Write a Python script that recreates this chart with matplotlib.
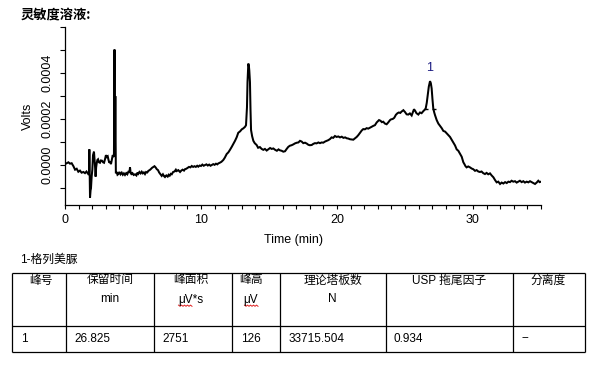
import matplotlib
matplotlib.use('Agg')
import matplotlib.pyplot as plt
from matplotlib.ticker import FixedLocator, FixedFormatter
import numpy as np

# ---------------- data ----------------
title = "灵敏度溶液:"
compound = "1-格列美脲"

time_min = [
    0.00, 0.12, 0.25, 0.37, 0.49, 0.62, 0.74, 0.86, 0.98, 1.10, 1.22, 1.35, 1.47, 1.58, 1.70, 1.77,
    1.79, 1.81, 1.84, 1.88, 1.91, 1.96, 2.01, 2.06, 2.13, 2.18, 2.21, 2.25, 2.29, 2.33, 2.38, 2.43,
    2.50, 2.57, 2.64, 2.72, 2.80, 2.87, 2.94, 3.01, 3.08, 3.14, 3.20, 3.26, 3.32, 3.38, 3.45, 3.51,
    3.58, 3.60, 3.64, 3.67, 3.70, 3.74, 3.80, 3.86, 3.92, 4.00, 4.08, 4.17, 4.25, 4.33, 4.41, 4.50,
    4.58, 4.66, 4.74, 4.78, 4.83, 4.88, 4.96, 5.05, 5.15, 5.25, 5.32, 5.39, 5.47, 5.56, 5.64, 5.72,
    5.80, 5.88, 5.96, 6.05, 6.13, 6.22, 6.30, 6.40, 6.50, 6.58, 6.66, 6.75, 6.84, 6.92, 7.00, 7.11,
    7.20, 7.28, 7.35, 7.45, 7.55, 7.62, 7.70, 7.78, 7.85, 7.95, 8.05, 8.15, 8.21, 8.33, 8.46, 8.55,
    8.65, 8.75, 8.82, 8.92, 9.02, 9.12, 9.22, 9.32, 9.42, 9.52, 9.62, 9.72, 9.80, 9.90, 10.00, 10.10,
    10.20, 10.29, 10.40, 10.50, 10.60, 10.70, 10.79, 10.90, 11.00, 11.10, 11.20, 11.27, 11.38, 11.50,
    11.64, 11.75, 11.89, 12.01, 12.13, 12.26, 12.38, 12.50, 12.62, 12.74, 12.87, 13.00, 13.11, 13.24,
    13.31, 13.38, 13.42, 13.46, 13.48, 13.52, 13.55, 13.60, 13.64, 13.68, 13.76, 13.85, 13.95, 14.09,
    14.20, 14.33, 14.46, 14.58, 14.70, 14.83, 14.95, 15.08, 15.20, 15.32, 15.45, 15.58, 15.70, 15.80,
    15.93, 16.05, 16.18, 16.30, 16.42, 16.54, 16.66, 16.80, 16.91, 17.05, 17.16, 17.28, 17.40, 17.52,
    17.65, 17.78, 17.89, 18.00, 18.14, 18.26, 18.38, 18.50, 18.63, 18.75, 18.87, 18.99, 19.12, 19.24,
    19.36, 19.49, 19.60, 19.72, 19.85, 19.97, 20.10, 20.22, 20.35, 20.47, 20.60, 20.72, 20.83, 20.95,
    21.08, 21.20, 21.32, 21.45, 21.57, 21.70, 21.82, 21.93, 22.05, 22.18, 22.30, 22.43, 22.55, 22.67,
    22.79, 22.92, 23.00, 23.09, 23.20, 23.30, 23.40, 23.52, 23.65, 23.77, 23.90, 23.97, 24.10, 24.21,
    24.33, 24.45, 24.55, 24.65, 24.75, 24.88, 25.00, 25.12, 25.24, 25.36, 25.49, 25.58, 25.66, 25.74,
    25.84, 25.98, 26.10, 26.22, 26.35, 26.45, 26.52, 26.60, 26.67, 26.75, 26.84, 26.90, 26.96, 27.02,
    27.08, 27.15, 27.21, 27.33, 27.45, 27.58, 27.70, 27.82, 27.95, 28.06, 28.18, 28.31, 28.43, 28.55,
    28.68, 28.80, 28.92, 29.05, 29.17, 29.29, 29.36, 29.45, 29.53, 29.65, 29.78, 29.90, 30.02, 30.15,
    30.27, 30.39, 30.51, 30.63, 30.75, 30.88, 31.00, 31.12, 31.25, 31.37, 31.50, 31.62, 31.74, 31.86,
    31.99, 32.11, 32.23, 32.36, 32.48, 32.60, 32.72, 32.84, 32.96, 33.09, 33.21, 33.33, 33.45, 33.58,
    33.70, 33.82, 33.95, 34.07, 34.19, 34.31, 34.43, 34.56, 34.68, 34.80, 34.90, 35.00,
]

# signal in units of 1e-4 V
signal_e4 = [
    0.04, 0.08, 0.12, 0.06, 0.08, -0.05, -0.20, -0.16, -0.29, -0.24, -0.33, -0.30, -0.35, -0.28, -0.38, -0.30,
    0.68, -0.20, -1.41, -1.10, -1.01, -0.50, -0.20, 0.43, 0.58, 0.20, -0.07, -0.50, -0.10, 0.07, 0.22, 0.25,
    0.12, 0.10, 0.20, 0.19, 0.12, 0.10, 0.25, 0.43, 0.35, 0.38, 0.22, 0.10, 0.15, 0.04, 0.25, 0.43,
    0.35, 0.51, 5.01, 0.55, 2.99, -0.36, -0.30, -0.42, -0.39, -0.30, -0.40, -0.33, -0.42, -0.36, -0.43, -0.35,
    -0.40, -0.29, -0.30, -0.10, -0.35, -0.39, -0.35, -0.43, -0.40, -0.45, -0.33, -0.38, -0.30, -0.36, -0.29, -0.36,
    -0.32, -0.39, -0.30, -0.32, -0.25, -0.22, -0.18, -0.12, -0.08, -0.05, -0.10, -0.18, -0.22, -0.32, -0.38, -0.47,
    -0.40, -0.48, -0.52, -0.45, -0.50, -0.42, -0.46, -0.38, -0.40, -0.30, -0.28, -0.20, -0.26, -0.22, -0.30, -0.24,
    -0.20, -0.24, -0.18, -0.16, -0.12, -0.08, -0.10, -0.04, -0.08, -0.05, -0.08, -0.03, -0.07, -0.02, -0.04, 0.02,
    -0.03, 0.00, 0.03, -0.02, 0.02, -0.03, 0.00, 0.04, 0.01, 0.06, 0.03, 0.07, 0.10, 0.14,
    0.22, 0.32, 0.48, 0.55, 0.66, 0.79, 0.92, 1.05, 1.20, 1.40, 1.46, 1.55, 1.59, 1.66,
    1.73, 2.50, 3.60, 4.20, 4.40, 4.30, 4.11, 3.60, 2.40, 1.52, 1.25, 1.05, 0.95, 0.87,
    0.75, 0.78, 0.70, 0.66, 0.70, 0.63, 0.68, 0.74, 0.70, 0.72, 0.66, 0.62, 0.68, 0.64,
    0.62, 0.58, 0.60, 0.70, 0.79, 0.84, 0.86, 0.90, 0.94, 0.97, 0.98, 1.05, 1.02, 0.95,
    0.97, 0.93, 0.88, 0.86, 0.87, 0.92, 0.95, 0.94, 0.98, 0.95, 0.98, 0.97, 1.02, 1.05,
    1.08, 1.13, 1.20, 1.18, 1.26, 1.22, 1.24, 1.20, 1.23, 1.18, 1.20, 1.16, 1.15, 1.12,
    1.11, 1.10, 1.16, 1.22, 1.30, 1.40, 1.50, 1.56, 1.55, 1.60, 1.58, 1.62, 1.66, 1.70,
    1.73, 1.85, 1.90, 1.95, 1.92, 1.86, 1.88, 1.80, 1.77, 1.85, 1.95, 1.98, 2.00, 2.05,
    2.18, 2.25, 2.28, 2.26, 2.32, 2.38, 2.30, 2.20, 2.19, 2.24, 2.15, 2.30, 2.42, 2.36,
    2.25, 2.19, 2.28, 2.25, 2.34, 2.40, 2.45, 2.70, 3.03, 3.40, 3.64, 3.55, 3.32, 2.85,
    2.45, 2.28, 2.16, 1.95, 1.80, 1.70, 1.60, 1.48, 1.45, 1.38, 1.30, 1.22, 1.10, 0.98,
    0.85, 0.68, 0.62, 0.48, 0.36, 0.12, 0.05, -0.05, -0.10, -0.06, -0.10, -0.15, -0.18, -0.25,
    -0.22, -0.28, -0.30, -0.28, -0.35, -0.39, -0.34, -0.40, -0.36, -0.45, -0.53, -0.65, -0.75, -0.72,
    -0.82, -0.76, -0.80, -0.74, -0.78, -0.72, -0.74, -0.68, -0.72, -0.70, -0.76, -0.72, -0.68, -0.74,
    -0.70, -0.76, -0.72, -0.75, -0.70, -0.74, -0.78, -0.82, -0.76, -0.68, -0.74, -0.72,
]

# integration markers of peak 1 (start / end)
peak_marker_t = [26.55, 27.10]
peak_marker_e4 = [2.45, 2.42]
peak_rt = 26.825
peak_top_e4 = 3.64
peak_name = "1"

x_major = [0, 10, 20, 30]
x_minor = list(range(0, 36))
y_major = [0.0, 0.0002, 0.0004]
y_major_labels = ["0.0000", "0.0002", "0.0004"]
y_minor = [-0.0001, 0.0001, 0.0003, 0.0005, 0.0006]

header1 = ["峰号", "保留时间", "峰面积", "峰高", "理论塔板数", "USP 拖尾因子", "分离度"]
header2 = ["", "min", "μV*s", "μV", "N", "", ""]
row1 = ["1", "26.825", "2751", "126", "33715.504", "0.934", "--"]

# ---------------- figure ----------------
W, H = 598, 367
fig = plt.figure(figsize=(W / 100, H / 100), dpi=100)
fig.patch.set_facecolor('white')

latin_cjk = ['Liberation Sans', 'Noto Sans CJK SC', 'DejaVu Sans']
cjk_first = ['Noto Sans CJK SC', 'Liberation Sans', 'DejaVu Sans']

# overlay in pixel coords for title and table
ov = fig.add_axes([0, 0, 1, 1])
ov.set_xlim(0, W)
ov.set_ylim(H, 0)
ov.set_axis_off()

ov.text(20.5, 15, title, family=cjk_first, fontweight='bold', fontsize=9.5,
        ha='left', va='center')
ov.text(20.5, 260, compound, family=latin_cjk, fontsize=8.5, ha='left', va='center')

col_x = [12.3, 66, 154.3, 232.3, 280, 385.7, 513.3, 584.5]
row_y = [272.7, 326, 351.7]
for x in col_x:
    ov.plot([x, x], [row_y[0], row_y[-1]], color='black', lw=0.9, solid_capstyle='butt')
for y in row_y:
    ov.plot([col_x[0], col_x[-1]], [y, y], color='black', lw=0.9, solid_capstyle='butt')

head_cx = [40.5, 110, 191, 251, 332.5, 449.5, 548.5]
for cx, h1, h2 in zip(head_cx, header1, header2):
    ov.text(cx, 280.5, h1, family=latin_cjk, fontsize=8.5, ha='center', va='center')
    if h2:
        ov.text(cx, 299.5, h2, family=latin_cjk, fontsize=8.5, ha='center', va='center')
        if h2.startswith('μ'):
            x0 = cx - (6.5 if h2 == 'μV' else 12.5)
            zx = [x0 + i * 1.5 for i in range(10)]
            zy = [305.5 + (0.8 if i % 2 else -0.4) for i in range(10)]
            ov.plot(zx, zy, color='#e02020', lw=0.7)
for x0, txt in zip(col_x[:-1], row1):
    ov.text(x0 + 8.3, 338.5, txt, family=latin_cjk, fontsize=8.5, ha='left', va='center')

# ---------------- chromatogram ----------------
ax = fig.add_axes([65 / W, 162 / H, 476 / W, 178.3 / H])
t = np.array(time_min)
v = np.array(signal_e4) * 1e-4
ax.plot(t, v, color='black', lw=1.45, solid_joinstyle='miter')
ax.plot(peak_marker_t, np.array(peak_marker_e4) * 1e-4, linestyle='none', marker='_',
        markersize=3.5, markeredgewidth=1.0, color='black')
ax.annotate(peak_name, (peak_rt, peak_top_e4 * 1e-4), xytext=(0, 9.2), textcoords='offset points',
            ha='center', va='center', fontsize=9, color='#1a1a80', family=latin_cjk)

ax.set_xlim(0, 35)
ax.set_ylim(-1.732e-4, 6.0e-4)
for s in ['top', 'right']:
    ax.spines[s].set_visible(False)
for s in ['left', 'bottom']:
    ax.spines[s].set_linewidth(0.9)

ax.xaxis.set_major_locator(FixedLocator(x_major))
ax.xaxis.set_minor_locator(FixedLocator(x_minor))
ax.yaxis.set_major_locator(FixedLocator(y_major))
ax.yaxis.set_major_formatter(FixedFormatter(y_major_labels))
ax.yaxis.set_minor_locator(FixedLocator(y_minor))
ax.tick_params(axis='x', which='both', length=2.6, width=0.8, direction='out', pad=4,
               labelsize=9)
ax.tick_params(axis='y', which='both', length=3.6, width=0.8, direction='out', pad=4.5,
               labelsize=9, labelrotation=90)
for lab in ax.get_yticklabels():
    lab.set_va('center')
for lab in ax.get_xticklabels() + ax.get_yticklabels():
    lab.set_family(latin_cjk)

ax.set_xlabel('Time (min)', fontsize=9, family=latin_cjk, va='center')
ax.xaxis.set_label_coords(0.479, -0.196)
ax.set_ylabel('Volts', fontsize=9, family=latin_cjk, va='center')
ax.yaxis.set_label_coords(-0.077, 0.5)

fig.savefig('out.png', dpi=100, facecolor='white')
